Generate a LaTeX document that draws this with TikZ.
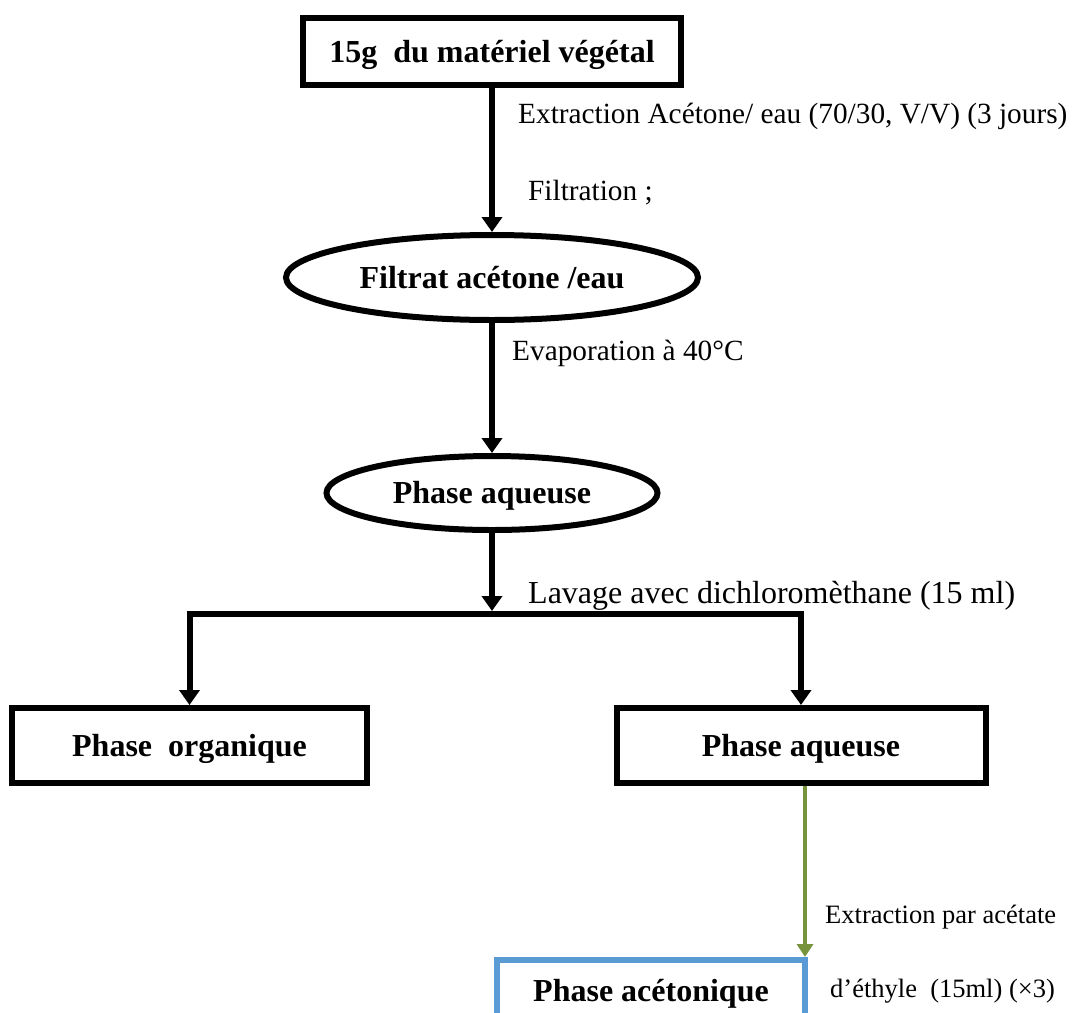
\documentclass[tikz,border=0pt]{standalone}
\usepackage{fontspec}
\setmainfont{Liberation Serif}
\usetikzlibrary{shapes.geometric,arrows.meta}
\definecolor{stepgreen}{HTML}{77933C}
\definecolor{stepblue}{HTML}{5B9BD5}
\begin{document}
\begin{tikzpicture}[x=1pt,y=-1pt,
  boldtext/.style={font=\fontsize{32}{38}\selectfont\bfseries,text height=21.6pt,text depth=0pt},
  box/.style={draw,rectangle,line width=6pt,line join=miter,inner sep=0pt,boldtext},
  oval/.style={draw,ellipse,line width=6pt,inner sep=0pt,boldtext},
  flow/.style={line width=6pt,line join=miter,-{Triangle[width=20pt,length=15pt]}},
  greenflow/.style={draw=stepgreen,line width=3.5pt,-{Triangle[width=16pt,length=13pt]}},
  note/.style={anchor=base west,inner sep=0pt,font=\fontsize{29.3}{35}\selectfont},
  bignote/.style={anchor=base west,inner sep=0pt,font=\fontsize{32}{38}\selectfont},
  smallnote/.style={anchor=base west,inner sep=0pt,font=\fontsize{26.5}{32}\selectfont},
]
\clip (0,0) rectangle (1072,1013);

% main column
\node[box,minimum width=378pt,minimum height=67pt] (top) at (492,51.5) {15g\ \ du matériel végétal};
\node[oval,minimum width=412pt,minimum height=85pt] (ell1) at (492,277.5) {Filtrat acétone /eau};
\node[oval,minimum width=331pt,minimum height=74pt] (ell2) at (492,493) {Phase aqueuse};
\coordinate (split) at (492,614);

\draw[flow] (top.south) -- (ell1.north);
\draw[flow] (ell1.south) -- (ell2.north);
\draw[flow] (ell2.south) -- ([yshift=3pt]split);

% separation into two phases
\node[box,minimum width=355pt,minimum height=75pt] (org) at (189.5,745.5) {Phase\ \ organique};
\node[box,minimum width=369pt,minimum height=75pt] (aq) at (801,745.5) {Phase aqueuse};
\draw[flow] (split) -| (org.north);
\draw[flow] (split) -| (aq.north);

% ethyl acetate extraction
\node[draw=stepblue,rectangle,line width=6pt,line join=miter,inner sep=0pt,outer sep=0pt,
      minimum width=308pt,minimum height=62pt,boldtext] (acet) at (651,991) {Phase acétonique};
\draw[greenflow] (aq.south -| acet.north east) -- ([yshift=3pt]acet.north east);

% step annotations
\node[note] (n1) at (518,123) {Extraction Acétone/ eau (70/30, V/V) (3 jours)};
\node[note] (n2) at (528,200) {Filtration ;};
\node[note] (n3) at (512,360) {Evaporation à 40°C};
\node[bignote] (n4) at (528,603) {Lavage avec dichloromèthane (15 ml)};
\node[smallnote] (n5) at (825,923) {Extraction par acétate};
\node[smallnote] (n6) at (830,997) {d’éthyle\ \ (15ml) (×3)};
\end{tikzpicture}
\end{document}
